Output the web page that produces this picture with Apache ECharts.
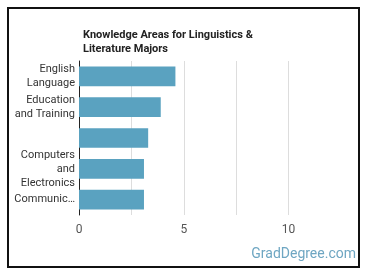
<!DOCTYPE html>
<html>
<head>
<meta charset="utf-8">
<script src="https://cdn.jsdelivr.net/npm/echarts@6/dist/echarts.min.js"></script>
<style>
  html, body { margin: 0; padding: 0; background: #fff; }
  #chart { width: 370px; height: 278px; }
</style>
</head>
<body>
<div id="chart"></div>
<script>
// categories as shown on the axis (third label is blank in the original)
var categories = ['English\nLanguage', 'Education\nand Training', '', 'Computers\nand\nElectronics', 'Communic…'];
var values = [4.6, 3.9, 3.3, 3.1, 3.1];
var tickLabels = ['0', '5', '10'];

var chart = echarts.init(document.getElementById('chart'));
var option = {
    animation: false,
    title: {
        text: 'Knowledge Areas for Linguistics &\nLiterature Majors',
        left: 78,
        top: 23,
        textStyle: {
            fontFamily: 'Roboto',
            fontSize: 11,
            fontWeight: 'bold',
            color: '#222',
            lineHeight: 14
        }
    },
    grid: {
        left: 79,
        right: 29,
        top: 61,
        bottom: 63
    },
    xAxis: {
        type: 'value',
        min: 0,
        max: 12.5,
        interval: 2.5,
        axisLine: { show: false },
        axisTick: { show: false },
        axisLabel: {
            interval: 1,
            margin: 9,
            fontFamily: 'Roboto',
            fontSize: 12,
            color: '#555',
            formatter: function (v) {
                return v % 5 === 0 ? String(v) : '';
            }
        },
        splitLine: {
            lineStyle: {
                color: ['#ddd', '#ddd', '#ddd', '#ddd', '#ddd', 'rgba(0,0,0,0)']
            }
        }
    },
    yAxis: {
        type: 'category',
        inverse: true,
        data: categories,
        axisLine: { lineStyle: { color: '#222', width: 1 } },
        axisTick: { show: false },
        axisLabel: {
            margin: 4,
            fontFamily: 'Roboto',
            fontSize: 11,
            color: '#333',
            lineHeight: 14,
            align: 'right'
        }
    },
    series: [{
        type: 'bar',
        data: values,
        barWidth: '64%',
        itemStyle: { color: '#5aa2c0' }
    }],
    graphic: [{
        type: 'rect',
        shape: { x: 8, y: 8, width: 351, height: 259 },
        style: { fill: null, stroke: '#111', lineWidth: 2 }
    }, {
        type: 'text',
        right: 14,
        top: 247,
        style: {
            text: 'GradDegree.com',
            fontFamily: 'Roboto',
            fontSize: 14,
            fill: '#6ea6c2'
        }
    }]
};
chart.setOption(option);
</script>
</body>
</html>
